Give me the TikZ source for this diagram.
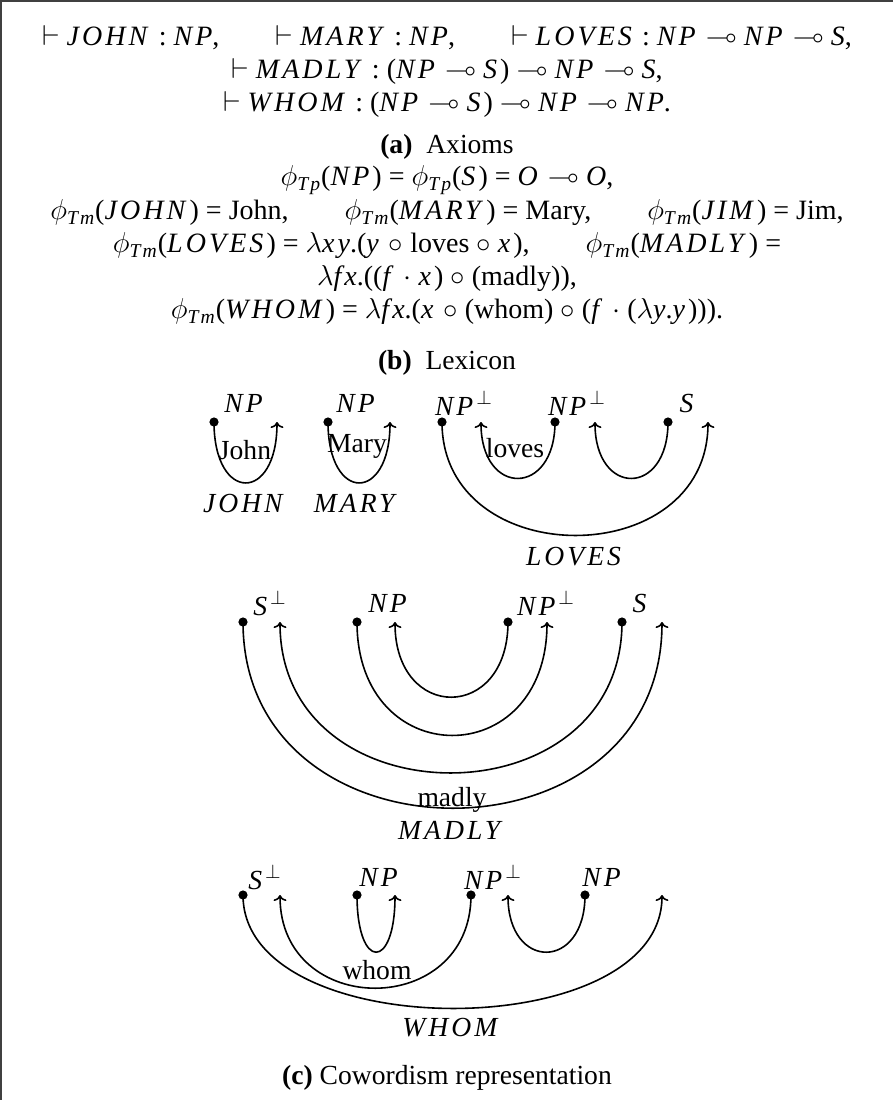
\documentclass[tikz,border=0pt]{standalone}
\usepackage{amsmath,amssymb}
\usepackage{fontspec}
\setmainfont{Liberation Serif}
\usetikzlibrary{arrows.meta}
\newcommand\mv[1]{\textit{\addfontfeature{LetterSpace=11}#1}}
\newcommand\vd{$\vdash$\ }
\newcommand\lo{$\multimap$}
\newcommand\ph[1]{$\phi_{\mv{#1}}$}
\begin{document}
\begin{tikzpicture}[x=0.5pt,y=-0.5pt,
  every node/.style={font=\fontsize{13.8}{16.5}\selectfont, inner sep=0pt},
  topline/.style={font=\fontsize{14}{16.5}\selectfont},
  dotn/.style={circle,fill,inner sep=0pt,minimum size=4.6pt},
  arcl/.style={line width=0.8pt,-{To[length=3pt,width=6.5pt]}},
  frame/.style={line width=1pt,black!75}]
\useasboundingbox (0,0) rectangle (894,1100);
\coordinate (fa) at (1,1100);
\coordinate (fb) at (1,1);
\coordinate (fc) at (893,1);
\draw[frame] (fa) -- (fb) -- (fc);
% axioms
\node[topline] (ax1) at (447,38) {\vd\mv{JOHN} : \mv{NP},\qquad \vd\mv{MARY} : \mv{NP},\qquad \vd\mv{LOVES} : \mv{NP} \lo{} \mv{NP} \lo{} \mv{S},};
\node[topline] (ax2) at (447,71) {\vd\mv{MADLY} : (\mv{NP} \lo{} \mv{S}) \lo{} \mv{NP} \lo{} \mv{S},};
\node[topline] (ax3) at (447,104) {\vd\mv{WHOM} : (\mv{NP} \lo{} \mv{S}) \lo{} \mv{NP} \lo{} \mv{NP}.};
\node (capa) at (447,147) {\textbf{(a)}\ \ Axioms};
% lexicon
\node[topline] (lx1) at (447,180) {\ph{Tp}(\mv{NP}) = \ph{Tp}(\mv{S}) = \mv{O} \lo{} \mv{O},};
\node[topline] (lx2) at (447,213) {\ph{Tm}(\mv{JOHN}) = John,\qquad \ph{Tm}(\mv{MARY}) = Mary,\qquad \ph{Tm}(\mv{JIM}) = Jim,};
\node[topline] (lx3) at (447,246) {\ph{Tm}(\mv{LOVES}) = $\lambda$\mv{xy}.(\mv{y} $\circ$ loves $\circ$ \mv{x}),\qquad \ph{Tm}(\mv{MADLY}) =};
\node[topline] (lx4) at (447,279) {$\lambda$\mv{fx}.((\mv{f} $\cdot$ \mv{x}) $\circ$ (madly)),};
\node[topline] (lx5) at (447,312) {\ph{Tm}(\mv{WHOM}) = $\lambda$\mv{fx}.(\mv{x} $\circ$ (whom) $\circ$ (\mv{f} $\cdot$ ($\lambda$\mv{y}.\mv{y}))).};
\node (capb) at (447,363) {\textbf{(b)}\ \ Lexicon};
% row 1
\node (tJ) at (245,403) {\mv{NP}};
\node (tM) at (357,403) {\mv{NP}};
\node (tL1) at (464,403) {\mv{NP}$^{\perp}$};
\node (tL2) at (577,403) {\mv{NP}$^{\perp}$};
\node (tL3) at (688,403) {\mv{S}};
\node[dotn] (J1) at (214,422) {};
\coordinate (J2) at (277,422);
\node[dotn] (M1) at (328,422) {};
\coordinate (M2) at (390,422);
\node[dotn] (L1) at (442,422) {};
\coordinate (L2) at (481,422);
\node[dotn] (L3) at (555,422) {};
\coordinate (L4) at (595,422);
\node[dotn] (L5) at (668,422) {};
\coordinate (L6) at (708,422);
\draw[arcl] (J1.center) .. controls +(0,81) and +(0,81) .. (J2);
\draw[arcl] (M1.center) .. controls +(0,81) and +(0,81) .. (M2);
\draw[arcl] (L3.center) .. controls +(0,75) and +(0,75) .. (L2);
\draw[arcl] (L5.center) .. controls +(0,75) and +(0,75) .. (L4);
\draw[arcl] (L1.center) .. controls +(0,151) and +(0,151) .. (L6);
\node (john) at (245,450) {John};
\node (mary) at (357,446) {Mary};
\node (loves) at (515,448) {loves};
\node (JOHN) at (245,503) {\mv{JOHN}};
\node (MARY) at (357,503) {\mv{MARY}};
\node (LOVES) at (575,557) {\mv{LOVES}};
% row 2
\node (tM1) at (270,603) {\mv{S}$^{\perp}$};
\node (tM2) at (389,603) {\mv{NP}};
\node (tM3) at (546,603) {\mv{NP}$^{\perp}$};
\node (tM4) at (641,603) {\mv{S}};
\node[dotn] (D1) at (243,622) {};
\coordinate (D2) at (280,622);
\node[dotn] (D3) at (357,622) {};
\coordinate (D4) at (395,622);
\node[dotn] (D5) at (508,622) {};
\coordinate (D6) at (547,622);
\node[dotn] (D7) at (622,622) {};
\coordinate (D8) at (662,622);
\draw[arcl] (D5.center) .. controls +(0,100) and +(0,100) .. (D4);
\draw[arcl] (D3.center) .. controls +(0,151) and +(0,151) .. (D6);
\draw[arcl] (D7.center) .. controls +(0,201) and +(0,201) .. (D2);
\draw[arcl] (D1.center) .. controls +(0,248) and +(0,248) .. (D8);
\node (madly) at (452,800) {madly};
\node (MADLY) at (452,830) {\mv{MADLY}};
% row 3
\node (tW1) at (265,877) {\mv{S}$^{\perp}$};
\node (tW2) at (380,877) {\mv{NP}};
\node (tW3) at (493,877) {\mv{NP}$^{\perp}$};
\node (tW4) at (603,877) {\mv{NP}};
\node[dotn] (W1) at (243,895) {};
\coordinate (W2) at (280,895);
\node[dotn] (W3) at (357,895) {};
\coordinate (W4) at (395,895);
\node[dotn] (W5) at (471,895) {};
\coordinate (W6) at (508,895);
\node[dotn] (W7) at (585,895) {};
\coordinate (W8) at (662,895);
\draw[arcl] (W1.center) .. controls +(0,151) and +(0,151) .. (W8);
\draw[arcl] (W5.center) .. controls +(0,124) and +(0,124) .. (W2);
\draw[arcl] (W3.center) .. controls +(0,76) and +(0,76) .. (W4);
\draw[arcl] (W7.center) .. controls +(0,76) and +(0,76) .. (W6);
\node (whom) at (377,970) {whom};
\node (WHOM) at (452,1028) {\mv{WHOM}};
\node (capc) at (447,1078) {\textbf{(c)} Cowordism representation};
\end{tikzpicture}
\end{document}
